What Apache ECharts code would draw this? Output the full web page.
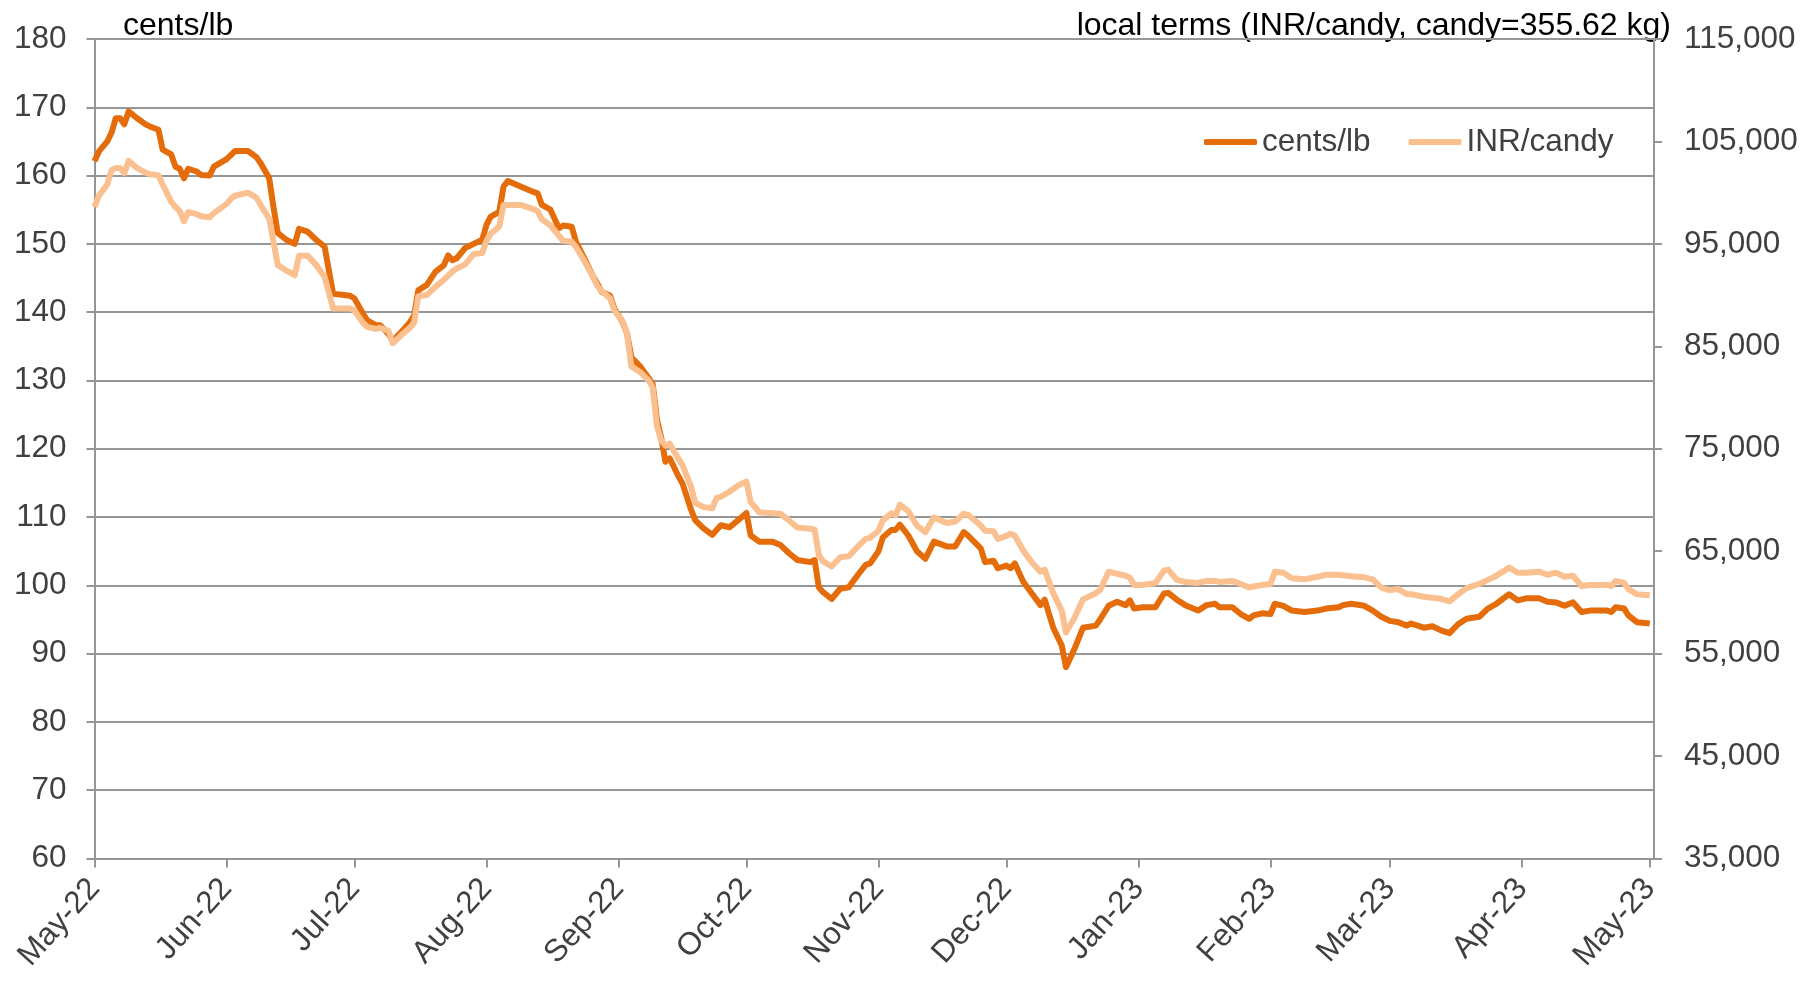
<!DOCTYPE html>
<html>
<head>
<meta charset="utf-8">
<script src="https://cdn.jsdelivr.net/npm/echarts@6/dist/echarts.min.js"></script>
<style>
html,body{margin:0;padding:0;background:#fff;}
#c{width:1807px;height:981px;}
</style>
</head>
<body>
<div id="c"></div>
<script>
const seriesNames = ['cents/lb', 'INR/candy'];
const leftTitle = 'cents/lb';
const rightTitle = 'local terms (INR/candy, candy=355.62 kg)';
const monthTicks = ['2022-05-01','2022-06-01','2022-07-01','2022-08-01','2022-09-01','2022-10-01','2022-11-01','2022-12-01','2023-01-01','2023-02-01','2023-03-01','2023-04-01','2023-05-01'];
const monthNames = ['Jan','Feb','Mar','Apr','May','Jun','Jul','Aug','Sep','Oct','Nov','Dec'];

const dates = [
'2022-05-01','2022-05-02','2022-05-04','2022-05-05','2022-05-06','2022-05-07','2022-05-08','2022-05-09','2022-05-11','2022-05-13',
'2022-05-14','2022-05-16','2022-05-17','2022-05-19','2022-05-20','2022-05-21','2022-05-22','2022-05-23','2022-05-25','2022-05-26',
'2022-05-28','2022-05-29','2022-06-01','2022-06-02','2022-06-03','2022-06-06','2022-06-08','2022-06-09','2022-06-11','2022-06-12',
'2022-06-13','2022-06-15','2022-06-17','2022-06-18','2022-06-20','2022-06-22','2022-06-24','2022-06-26','2022-06-30','2022-07-01',
'2022-07-03','2022-07-04','2022-07-06','2022-07-07','2022-07-09','2022-07-10','2022-07-12','2022-07-14','2022-07-15','2022-07-16',
'2022-07-18','2022-07-20','2022-07-22','2022-07-23','2022-07-24','2022-07-25','2022-07-27','2022-07-29','2022-07-31','2022-08-01',
'2022-08-02','2022-08-04','2022-08-05','2022-08-06','2022-08-09','2022-08-12','2022-08-13','2022-08-14','2022-08-16','2022-08-18',
'2022-08-19','2022-08-21','2022-08-22','2022-08-24','2022-08-26','2022-08-27','2022-08-28','2022-08-30','2022-08-31','2022-09-02',
'2022-09-03','2022-09-04','2022-09-06','2022-09-08','2022-09-09','2022-09-10','2022-09-11','2022-09-12','2022-09-13','2022-09-15',
'2022-09-16','2022-09-18','2022-09-19','2022-09-21','2022-09-23','2022-09-24','2022-09-25','2022-09-27','2022-09-29','2022-10-01',
'2022-10-02','2022-10-04','2022-10-07','2022-10-09','2022-10-11','2022-10-13','2022-10-16','2022-10-17','2022-10-18','2022-10-19',
'2022-10-21','2022-10-23','2022-10-25','2022-10-27','2022-10-29','2022-10-30','2022-11-01','2022-11-02','2022-11-04','2022-11-05',
'2022-11-06','2022-11-08','2022-11-10','2022-11-12','2022-11-14','2022-11-17','2022-11-19','2022-11-21','2022-11-22','2022-11-25',
'2022-11-26','2022-11-28','2022-11-29','2022-12-01','2022-12-02','2022-12-03','2022-12-05','2022-12-07','2022-12-09','2022-12-10',
'2022-12-12','2022-12-14','2022-12-15','2022-12-17','2022-12-19','2022-12-22','2022-12-23','2022-12-25','2022-12-27','2022-12-29',
'2022-12-30','2022-12-31','2023-01-02','2023-01-05','2023-01-07','2023-01-08','2023-01-10','2023-01-12','2023-01-15','2023-01-17',
'2023-01-19','2023-01-20','2023-01-23','2023-01-25','2023-01-27','2023-01-28','2023-01-30','2023-02-01','2023-02-02','2023-02-04',
'2023-02-06','2023-02-09','2023-02-12','2023-02-14','2023-02-17','2023-02-18','2023-02-20','2023-02-23','2023-02-25','2023-02-27',
'2023-03-01','2023-03-03','2023-03-05','2023-03-06','2023-03-09','2023-03-11','2023-03-13','2023-03-15','2023-03-17','2023-03-19',
'2023-03-22','2023-03-24','2023-03-26','2023-03-29','2023-03-31','2023-04-02','2023-04-05','2023-04-07','2023-04-09','2023-04-11',
'2023-04-13','2023-04-15','2023-04-17','2023-04-21','2023-04-22','2023-04-23','2023-04-25','2023-04-26','2023-04-28','2023-05-01'
];

const centsPerLb = [
162.1,163.5,165.0,166.3,168.4,168.4,167.5,169.4,168.4,167.5,
167.2,166.7,163.8,163.1,161.3,161.0,159.6,161.0,160.6,160.1,
160.0,161.3,162.4,163.0,163.6,163.6,162.7,161.8,159.6,155.4,
151.6,150.6,150.0,152.2,151.8,150.6,149.6,142.7,142.4,142.0,
139.8,138.8,138.1,138.1,136.8,135.8,137.1,138.5,139.5,143.2,
144.0,145.9,146.9,148.3,147.6,147.9,149.4,150.0,150.6,152.8,
154.0,154.7,158.4,159.2,158.4,157.6,157.4,155.7,155.0,152.3,
152.7,152.5,150.3,147.8,145.2,144.2,143.0,142.4,140.5,138.5,
136.8,133.4,132.1,130.4,129.5,124.3,121.6,118.1,118.6,116.0,
114.9,111.1,109.5,108.3,107.4,108.1,108.8,108.5,109.5,110.6,
107.3,106.4,106.4,105.9,104.7,103.7,103.4,103.7,99.7,99.0,
98.0,99.5,99.7,101.4,103.0,103.2,105.0,107.0,108.1,108.1,
108.9,107.3,105.0,103.9,106.4,105.7,105.7,107.8,107.3,105.4,
103.4,103.6,102.5,102.9,102.5,103.2,100.5,98.8,97.1,97.9,
93.8,91.2,88.0,90.7,93.8,94.1,95.0,97.0,97.6,97.1,
97.8,96.6,96.8,96.8,98.8,98.9,97.9,97.1,96.3,97.1,
97.3,96.8,96.8,95.8,95.1,95.6,95.9,95.8,97.3,97.0,
96.3,96.1,96.3,96.6,96.8,97.1,97.3,97.0,96.3,95.4,
94.8,94.6,94.1,94.4,93.8,94.0,93.4,93.0,94.3,95.1,
95.4,96.6,97.3,98.7,97.8,98.1,98.1,97.6,97.5,97.0,
97.5,96.1,96.3,96.3,96.1,96.8,96.6,95.6,94.6,94.4
];

const inrPerCandy = [
98600,99700,100800,102200,102400,102400,101900,103100,102400,101950,
101800,101700,100800,99100,98600,98200,97200,98100,97900,97700,
97600,98000,98900,99400,99700,100000,99500,98800,97450,95200,
92950,92400,91950,93850,93850,92950,91800,88700,88700,88500,
87300,86900,86700,86800,86500,85300,86100,86800,87300,89900,
90000,90800,91500,91900,92300,92600,93000,94000,94100,95300,
96000,96700,98800,98800,98800,98400,98200,97400,96800,95800,
95300,95200,94700,93300,91800,90900,90400,89700,88500,87400,
86200,83050,82500,81700,81000,77200,75800,75300,75500,74050,
73400,71300,69700,69300,69200,70200,70300,70800,71400,71800,
69800,68800,68700,68650,68000,67300,67200,67100,64600,64000,
63500,64400,64500,65400,66200,66300,67000,68000,68700,68500,
69550,68900,67500,66850,68300,67750,67900,68650,68550,67500,
67000,66950,66200,66500,66700,66500,65050,63900,63000,63200,
60900,59200,57050,58500,60300,60900,61200,63000,62800,62600,
62400,61700,61700,61900,63100,63200,62200,62000,61900,62100,
62100,62000,62100,61800,61450,61550,61700,61800,63000,62900,
62350,62250,62500,62700,62700,62650,62550,62450,62250,61450,
61200,61300,60800,60800,60550,60450,60350,60100,60800,61400,
61800,62200,62600,63400,62900,62900,63000,62700,62900,62500,
62600,61600,61700,61700,61600,62100,61900,61300,60800,60700
];

function toTs(s){ const p = s.split('-').map(Number); return Date.UTC(p[0], p[1]-1, p[2]); }
const tickTs = monthTicks.map(toTs);
const labelColor = '#404040';
const gridColor = '#969696';
const fontFam = '"Liberation Sans", Arial, sans-serif';

const chart = echarts.init(document.getElementById('c'), null, {renderer:'canvas'});
chart.setOption({
  animation:false,
  backgroundColor:'#ffffff',
  textStyle:{fontFamily:fontFam},
  grid:{left:94.5, right:153, top:39, bottom:122.5, containLabel:false},
  legend:{
    left:1199, top:121, itemWidth:53, itemHeight:6, itemGap:38, icon:'roundRect',
    textStyle:{fontSize:31.5, color:labelColor, fontFamily:fontFam},
    data:seriesNames
  },
  graphic:[
    {type:'text', left:123, top:10, style:{text:leftTitle, fontSize:32, fill:'#000', fontFamily:fontFam}},
    {type:'text', right:136, top:10, style:{text:rightTitle, fontSize:32, fill:'#000', fontFamily:fontFam}}
  ],
  xAxis:{
    type:'value', min:toTs('2022-05-01'), max:toTs('2023-05-02'),
    axisLine:{show:true, lineStyle:{color:gridColor, width:2}},
    axisTick:{show:true, length:9, lineStyle:{color:gridColor, width:2}, customValues:tickTs},
    axisLabel:{
      customValues:tickTs, rotate:48, margin:25, fontSize:31.5, color:labelColor, fontFamily:fontFam,
      formatter:function(v){ const d=new Date(v); return monthNames[d.getUTCMonth()]+'-'+String(d.getUTCFullYear()).slice(2); }
    },
    splitLine:{show:false}
  },
  yAxis:[
    {type:'value', min:60, max:180, interval:10, position:'left',
     axisLine:{show:true, lineStyle:{color:gridColor, width:2}},
     axisTick:{show:true, length:8, lineStyle:{color:gridColor, width:2}},
     axisLabel:{fontSize:31.5, color:labelColor, margin:28, fontFamily:fontFam},
     splitLine:{show:true, lineStyle:{color:gridColor, width:2}}},
    {type:'value', min:35000, max:115000, interval:10000, position:'right',
     axisLine:{show:true, lineStyle:{color:gridColor, width:2}},
     axisTick:{show:true, length:8, lineStyle:{color:gridColor, width:2}},
     axisLabel:{fontSize:31.5, color:labelColor, margin:30, fontFamily:fontFam,
       formatter:function(v){ return v.toLocaleString('en-US'); }},
     splitLine:{show:false}}
  ],
  series:[
    {name:seriesNames[0], type:'line', yAxisIndex:0, showSymbol:false, symbol:'none',
     lineStyle:{color:'#E46C0A', width:6, join:'round'}, itemStyle:{color:'#E46C0A'},
     data:dates.map((d,i)=>[toTs(d), centsPerLb[i]])},
    {name:seriesNames[1], type:'line', yAxisIndex:1, showSymbol:false, symbol:'none',
     lineStyle:{color:'#FAC090', width:6, join:'round'}, itemStyle:{color:'#FAC090'},
     data:dates.map((d,i)=>[toTs(d), inrPerCandy[i]])}
  ]
});
</script>
</body>
</html>
